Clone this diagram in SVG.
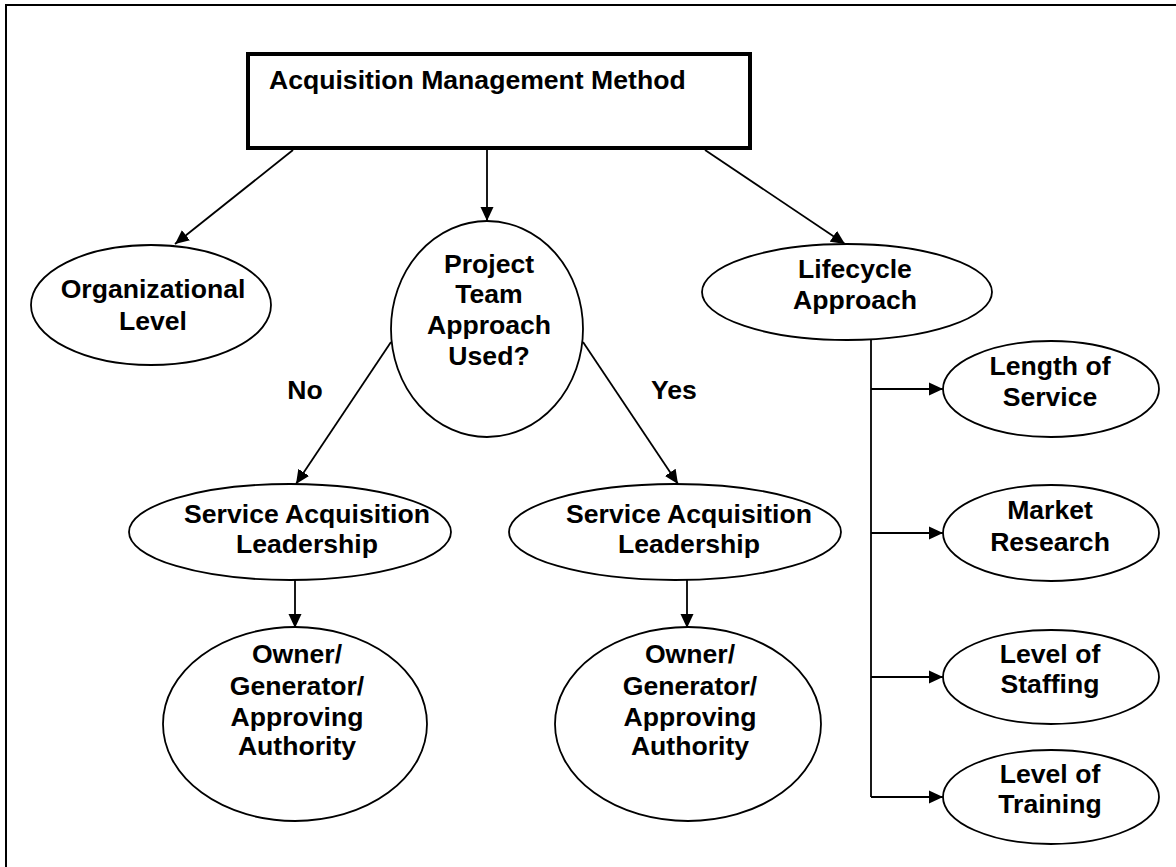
<svg xmlns="http://www.w3.org/2000/svg" width="1176" height="867" viewBox="0 0 1176 867">
<style>
text{font-family:"Liberation Sans",Arial,sans-serif;font-weight:bold;font-size:26.6px;fill:#000;text-anchor:middle}
.sh{fill:#fff;stroke:#000;stroke-width:1.8}
.ln{fill:none;stroke:#000;stroke-width:1.8}
</style>
<defs>
<marker id="ah" markerUnits="userSpaceOnUse" markerWidth="15" markerHeight="14" refX="14" refY="7" orient="auto">
<path d="M0,0.5 L14,7 L0,13.5 z" fill="#000"/>
</marker>
</defs>
<rect width="1176" height="867" fill="#fff"/>
<path d="M6,867 L6,5 L1176,5" fill="none" stroke="#000" stroke-width="2"/>
<g id="connectors">
<line class="ln" x1="293" y1="150" x2="175" y2="244" marker-end="url(#ah)"/>
<line class="ln" x1="487" y1="149" x2="487" y2="221" marker-end="url(#ah)"/>
<line class="ln" x1="705" y1="150" x2="845" y2="244" marker-end="url(#ah)"/>
<line class="ln" x1="391" y1="342" x2="296" y2="484" marker-end="url(#ah)"/>
<line class="ln" x1="583" y1="342" x2="678" y2="484" marker-end="url(#ah)"/>
<line class="ln" x1="295" y1="580" x2="295" y2="628" marker-end="url(#ah)"/>
<line class="ln" x1="687" y1="580" x2="687" y2="628" marker-end="url(#ah)"/>
<path class="ln" d="M871,340 L871,797"/>
<line class="ln" x1="871" y1="389" x2="943" y2="389" marker-end="url(#ah)"/>
<line class="ln" x1="871" y1="533" x2="943" y2="533" marker-end="url(#ah)"/>
<line class="ln" x1="871" y1="677" x2="943" y2="677" marker-end="url(#ah)"/>
<line class="ln" x1="871" y1="797" x2="943" y2="797" marker-end="url(#ah)"/>
<text x="305" y="399">No</text>
<text x="674" y="399">Yes</text>
</g>
<g id="node-method">
<rect x="248" y="54" width="502" height="94" fill="#fff" stroke="#000" stroke-width="4"/>
<text x="269" y="89" style="text-anchor:start">Acquisition Management Method</text>
</g>
<g id="node-org">
<ellipse class="sh" cx="151" cy="305" rx="120" ry="60"/>
<text x="153" y="298">Organizational</text>
<text x="153" y="330">Level</text>
</g>
<g id="node-project">
<ellipse class="sh" cx="487" cy="329" rx="96" ry="108"/>
<text x="489" y="273">Project</text>
<text x="489" y="303">Team</text>
<text x="489" y="334">Approach</text>
<text x="489" y="365">Used?</text>
</g>
<g id="node-lifecycle">
<ellipse class="sh" cx="847" cy="292" rx="145" ry="48"/>
<text x="855" y="278">Lifecycle</text>
<text x="855" y="309">Approach</text>
</g>
<g id="node-sal-no">
<ellipse class="sh" cx="290" cy="532" rx="161" ry="48"/>
<text x="307" y="523">Service Acquisition</text>
<text x="307" y="553">Leadership</text>
</g>
<g id="node-sal-yes">
<ellipse class="sh" cx="675" cy="532" rx="166" ry="48"/>
<text x="689" y="523">Service Acquisition</text>
<text x="689" y="553">Leadership</text>
</g>
<g id="node-owner-no">
<ellipse class="sh" cx="295" cy="724" rx="132" ry="97"/>
<text x="297" y="663">Owner/</text>
<text x="297" y="695">Generator/</text>
<text x="297" y="726">Approving</text>
<text x="297" y="755">Authority</text>
</g>
<g id="node-owner-yes">
<ellipse class="sh" cx="688" cy="724" rx="133" ry="97"/>
<text x="690" y="663">Owner/</text>
<text x="690" y="695">Generator/</text>
<text x="690" y="726">Approving</text>
<text x="690" y="755">Authority</text>
</g>
<g id="node-length">
<ellipse class="sh" cx="1051" cy="389" rx="108" ry="48"/>
<text x="1050" y="375">Length of</text>
<text x="1050" y="406">Service</text>
</g>
<g id="node-market">
<ellipse class="sh" cx="1051" cy="533" rx="108" ry="48"/>
<text x="1050" y="519">Market</text>
<text x="1050" y="551">Research</text>
</g>
<g id="node-staffing">
<ellipse class="sh" cx="1051" cy="677" rx="108" ry="47"/>
<text x="1050" y="663">Level of</text>
<text x="1050" y="693">Staffing</text>
</g>
<g id="node-training">
<ellipse class="sh" cx="1051" cy="797" rx="108" ry="47"/>
<text x="1050" y="783">Level of</text>
<text x="1050" y="813">Training</text>
</g>
</svg>
